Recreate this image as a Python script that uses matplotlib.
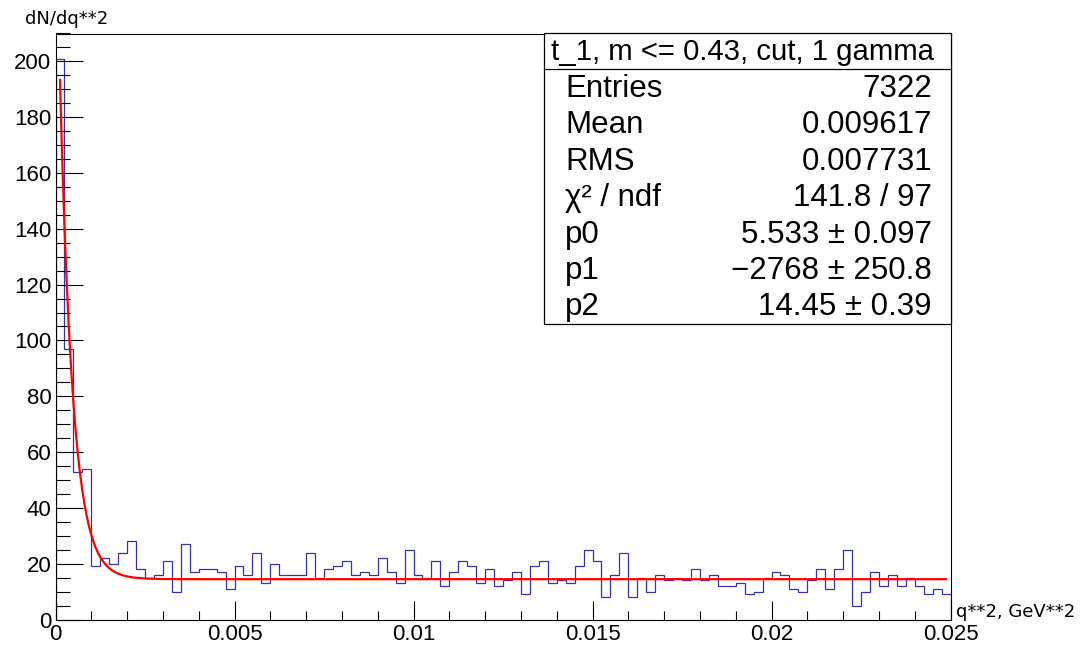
import numpy as np
import matplotlib
matplotlib.use("Agg")
import matplotlib.pyplot as plt
from matplotlib.patches import Rectangle
from matplotlib.ticker import MultipleLocator, FuncFormatter

# histogram: 100 bins over [0, 0.025]
x_min, x_max = 0.0, 0.025
counts = [201, 97, 53, 54, 19, 22, 20, 24, 28, 18,
          15, 16, 21, 10, 27, 17, 18, 18, 17, 11,
          19, 16, 24, 13, 20, 16, 16, 16, 24, 15,
          18, 19, 21, 16, 17, 16, 22, 17, 13, 25,
          16, 15, 21, 12, 17, 21, 19, 13, 18, 12,
          14, 17, 9, 19, 21, 13, 14, 13, 19, 25,
          21, 8, 16, 24, 8, 15, 10, 16, 14, 15,
          14, 18, 14, 16, 12, 12, 13, 9, 10, 15,
          17, 16, 11, 10, 14, 18, 11, 18, 25, 5,
          10, 17, 12, 16, 12, 15, 12, 9, 11, 9]

# fit: p2 + exp(p0 + p1*x)
p0, p1, p2 = 5.533, -2768.0, 14.45

stat_title = "t_1, m <= 0.43, cut, 1 gamma"
stat_names = ["Entries", "Mean", "RMS", "χ² / ndf", "p0", "p1", "p2"]
stat_values = ["7322", "0.009617", "0.007731", "141.8 / 97",
               "5.533 ± 0.097", "−2768 ± 250.8", "14.45 ± 0.39"]

W, H = 1080, 648
fig = plt.figure(figsize=(W / 100, H / 100), dpi=100)

def px(x, y):
    return x / W, 1 - y / H

left, top, right, bottom = 55.5, 33.5, 950.5, 619.5
ax = fig.add_axes([left / W, 1 - bottom / H, (right - left) / W, (bottom - top) / H])

edges = np.linspace(x_min, x_max, len(counts) + 1)
ax.stairs(counts, edges, color="#3434aa", lw=0.9, baseline=0)

centers = 0.5 * (edges[:-1] + edges[1:])
xf = np.linspace(centers[0], centers[-1], 800)
ax.plot(xf, p2 + np.exp(p0 + p1 * xf), color="red", lw=1.6)

ax.set_xlim(x_min, x_max)
ax.set_ylim(0, 210)

ax.xaxis.set_major_locator(MultipleLocator(0.005))
ax.xaxis.set_minor_locator(MultipleLocator(0.001))
ax.yaxis.set_major_locator(MultipleLocator(20))
ax.yaxis.set_minor_locator(MultipleLocator(5))
ax.xaxis.set_major_formatter(FuncFormatter(lambda v, p: "%g" % round(v, 4)))

ax.tick_params(which="both", direction="in", top=False, right=False,
               width=0.8, color="black")
ax.tick_params(axis="x", which="major", length=13.5, pad=3)
ax.tick_params(axis="x", which="minor", length=6.5)
ax.tick_params(axis="y", which="major", length=19.5, pad=3)
ax.tick_params(axis="y", which="minor", length=10)
for lab in ax.get_xticklabels() + ax.get_yticklabels():
    lab.set_fontfamily("Liberation Sans")
    lab.set_fontsize(16)
for s in ax.spines.values():
    s.set_linewidth(0.8)

# axis titles
fig.text(*px(25, 24), "dN/dq**2", fontsize=13, family="DejaVu Sans", ha="left", va="baseline")
fig.text(*px(956, 617), "q**2, GeV**2", fontsize=13, family="DejaVu Sans", ha="left", va="baseline")

# stats box
bx0, by0, bx1, by1 = 543.5, 33.0, 951.0, 324.0
row_h = (by1 - by0) / 8
fig.add_artist(Rectangle(px(bx0, by1), (bx1 - bx0) / W, (by1 - by0) / H,
                         transform=fig.transFigure, facecolor="white",
                         edgecolor="black", lw=0.9, zorder=5))
fig.add_artist(plt.Line2D([bx0 / W, bx1 / W], [1 - (by0 + row_h) / H] * 2,
                          transform=fig.transFigure, color="black", lw=0.9, zorder=6))
fig.text(*px((bx0 + bx1) / 2 - 5, by0 + row_h / 2 + 1), stat_title, fontsize=21.2,
         family="Liberation Sans", ha="center", va="center", zorder=7)
for i, (n, v) in enumerate(zip(stat_names, stat_values)):
    yc = by0 + row_h * (i + 1.5) + 1.5
    fig.text(*px(565, yc), n, fontsize=22.5, family="Liberation Sans",
             ha="left", va="center", zorder=7)
    fig.text(*px(932, yc), v, fontsize=22.5, family="Liberation Sans",
             ha="right", va="center", zorder=7)

fig.savefig("out.png", dpi=100, facecolor="white")
